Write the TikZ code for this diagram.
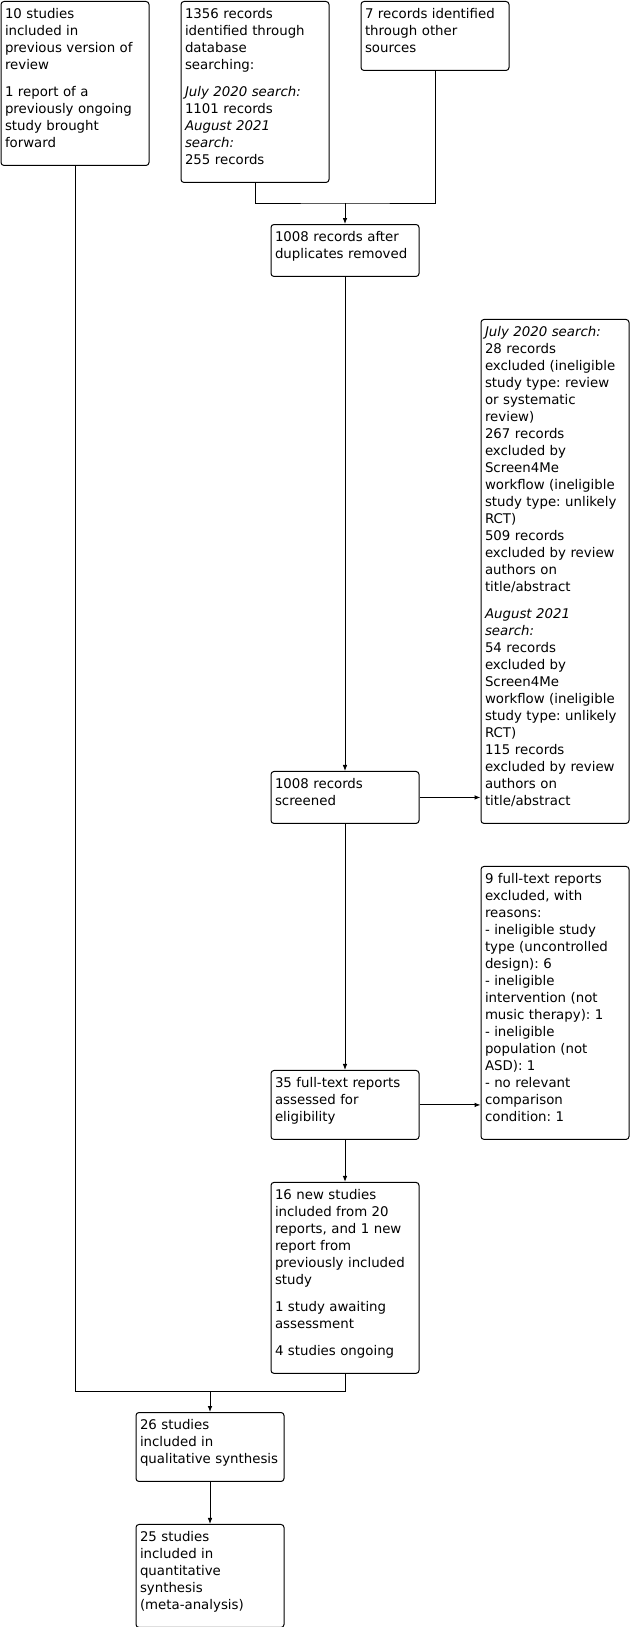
\documentclass[tikz,border=0pt]{standalone}
\usepackage{fontspec}
\setmainfont{DejaVu Sans}
\usetikzlibrary{positioning, arrows.meta}
\frenchspacing
\newcommand{\tailgap}{\rule[-9.3pt]{0pt}{9.3pt}}
\tikzstyle{flowbox} = [rectangle, rounded corners=2.25pt, draw=black, line width=0.75pt, text width=105pt, inner xsep=3pt, inner ysep=4pt, align=left, font=\fontsize{10pt}{12.75pt}\selectfont, execute at begin node=\strut, execute at end node=\tailgap]
\tikzstyle{joinline} = [line width=0.75pt]
\tikzstyle{arrow} = [line width=0.75pt, -{Latex[length=4.5pt, width=3.5pt]}]
\begin{document}
\begin{tikzpicture}[x=0.75pt, y=-0.75pt, node distance=31.5pt]
        \useasboundingbox (0,0) rectangle (632,1627);
        \node (prev) [flowbox, anchor=north] at (75,1) {10 studies\\included in\\previous version of\\review\\[7.5pt]1 report of a\\previously ongoing\\study brought\\forward};
        \node (db) [flowbox, anchor=north] at (255,1) {1356 records\\identified through\\database\\searching:\\[7.5pt]\textit{July 2020 search:}\\1101 records\\\textit{August 2021}\\\textit{search:}\\255 records};
        \node (other) [flowbox, anchor=north] at (435,1) {7 records identified\\through other\\sources};
        \node (dup) [flowbox, anchor=north] at (345,224) {1008 records after\\duplicates removed};
        \coordinate (dbjoin) at (345,203);
        \draw [joinline] (db.south) |- (dbjoin) -| (other.south);
        \draw [arrow] (dbjoin) -- (dup);
        \node (screen) [flowbox, below=370.5pt of dup] {1008 records\\screened};
        \draw [arrow] (dup) -- (screen);
        \node (excl) [flowbox, anchor=south west, xshift=45.75pt] at (screen.south east) {\textit{July 2020 search:}\\28 records\\excluded (ineligible\\study type: review\\or systematic\\review)\\267 records\\excluded by\\Screen4Me\\workflow (ineligible\\study type: unlikely\\RCT)\\509 records\\excluded by review\\authors on\\title/abstract\\[7.5pt]\textit{August 2021}\\\textit{search:}\\54 records\\excluded by\\Screen4Me\\workflow (ineligible\\study type: unlikely\\RCT)\\115 records\\excluded by review\\authors on\\title/abstract};
        \draw [arrow] (screen.east) -- (screen.east -| excl.west);
        \node (full) [flowbox, below=184.5pt of screen] {35 full-text reports\\assessed for\\eligibility};
        \draw [arrow] (screen) -- (full);
        \node (fullexcl) [flowbox, anchor=south west, xshift=45.75pt] at (full.south east) {9 full-text reports\\excluded, with\\reasons:\\- ineligible study\\type (uncontrolled\\design): 6\\- ineligible\\intervention (not\\music therapy): 1\\- ineligible\\population (not\\ASD): 1\\- no relevant\\comparison\\condition: 1};
        \draw [arrow] (full.east) -- (full.east -| fullexcl.west);
        \node (new) [flowbox, below=of full] {16 new studies\\included from 20\\reports, and 1 new\\report from\\previously included\\study\\[7.5pt]1 study awaiting\\assessment\\[7.5pt]4 studies ongoing};
        \draw [arrow] (full) -- (new);
        \node (qual) [flowbox, anchor=north] at (210,1412) {26 studies\\included in\\qualitative synthesis};
        \coordinate (newjoin) at (210,1391);
        \draw [joinline] (prev.south) |- (newjoin) -| (new.south);
        \draw [arrow] (newjoin) -- (qual);
        \node (quant) [flowbox, below=of qual] {25 studies\\included in\\quantitative\\synthesis\\(meta-analysis)};
        \draw [arrow] (qual) -- (quant);
\end{tikzpicture}
\end{document}
